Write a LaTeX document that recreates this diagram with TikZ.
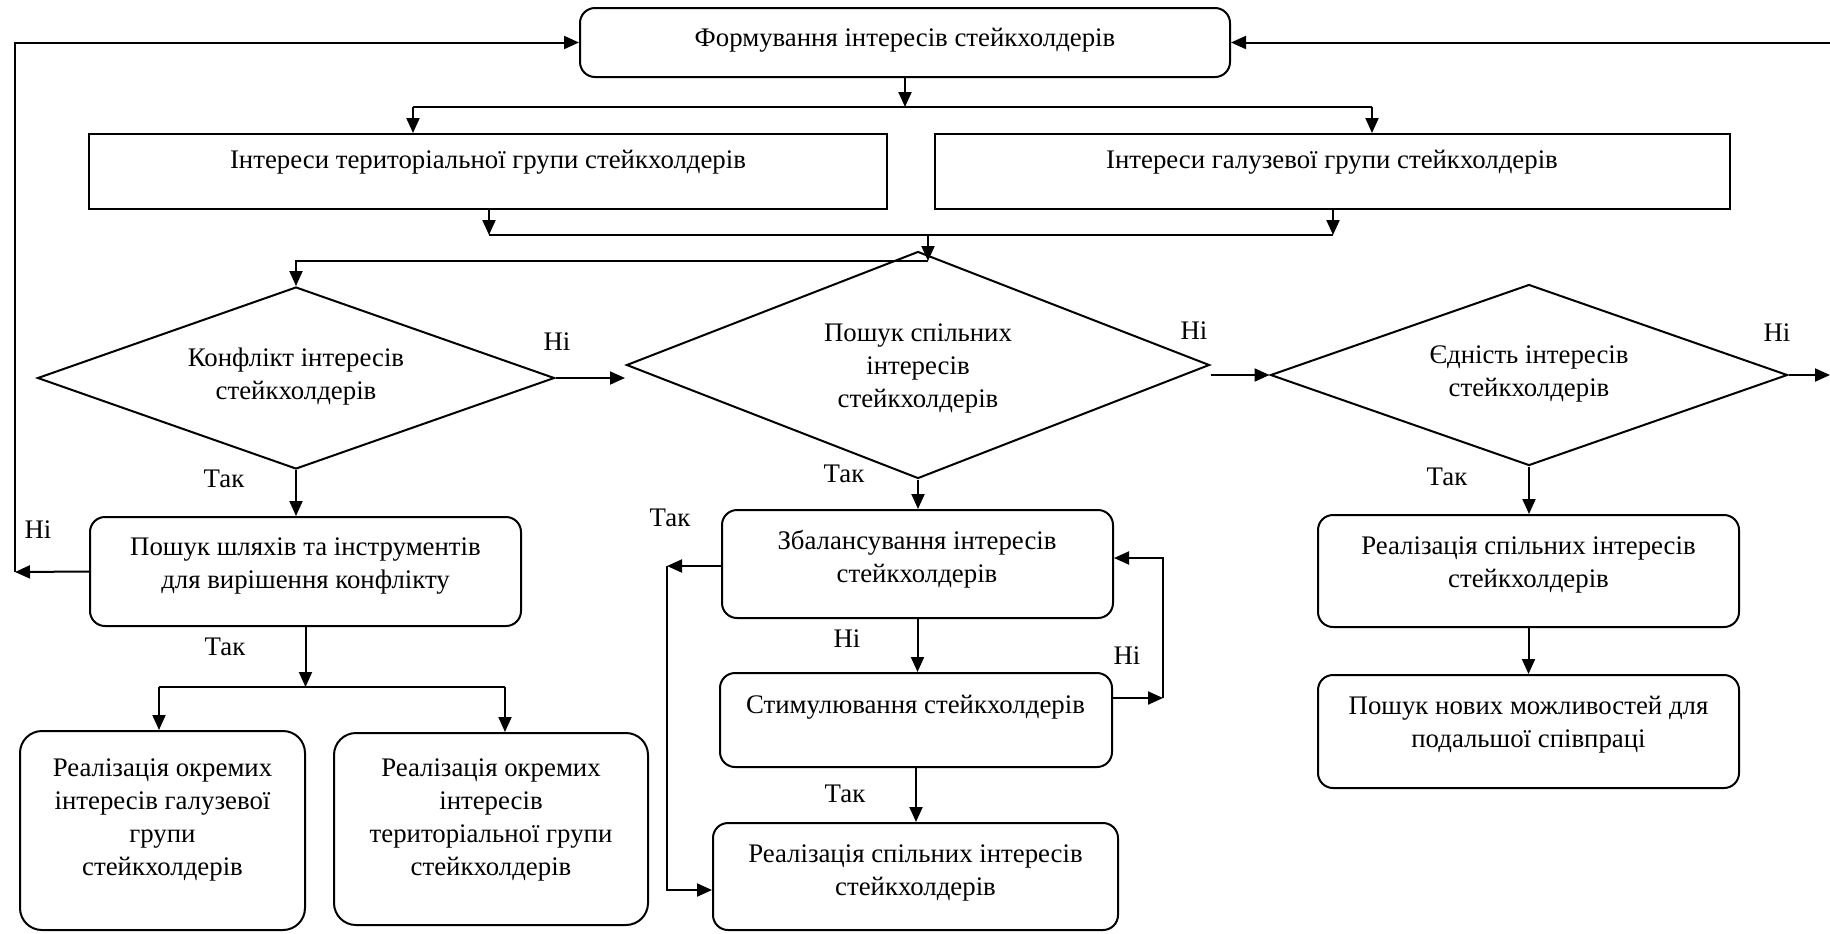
\documentclass[tikz,border=0pt]{standalone}
\usepackage{fontspec}
\setmainfont{Liberation Serif}
\usetikzlibrary{shapes.geometric}
\usetikzlibrary{arrows.meta}

\begin{document}
\begin{tikzpicture}[x=0.5pt,y=-0.5pt,line width=1pt,
   arr/.style={-{Triangle[length=7.5pt,width=6.5pt]}},
   sbox/.style={draw,rectangle,inner sep=0pt},
   rbox/.style={draw,rectangle,rounded corners=7.5pt,inner sep=0pt},
   dmd/.style={draw,diamond,inner sep=0pt},
   txt/.style={align=center,inner sep=0pt,font=\fontsize{13.4}{16.5}\selectfont},
   lbl/.style={inner sep=0pt,font=\fontsize{13.4}{16.5}\selectfont}]
   \useasboundingbox (0,0) rectangle (1830,933);

   \node[rbox,minimum width=325pt,minimum height=34.5pt] (form) at (905,42.5) {};
   \node[sbox,minimum width=399pt,minimum height=37.5pt] (terr) at (488,171.5) {};
   \node[sbox,minimum width=397.5pt,minimum height=37.5pt] (galuz) at (1332.5,171.5) {};
   \node[dmd,minimum width=258.5pt,minimum height=91pt] (konf) at (296,378) {};
   \node[dmd,minimum width=291.5pt,minimum height=113.5pt] (poshuk) at (918,365) {};
   \node[dmd,minimum width=258.5pt,minimum height=90.5pt] (yed) at (1529,375) {};
   \node[rbox,minimum width=215.5pt,minimum height=54.5pt] (shl) at (305.5,571.5) {};
   \node[rbox,rounded corners=11pt,minimum width=142.5pt,minimum height=99.5pt] (okrg) at (162.5,830.5) {};
   \node[rbox,rounded corners=11pt,minimum width=157pt,minimum height=96pt] (okrt) at (491,829) {};
   \node[rbox,minimum width=195.5pt,minimum height=54pt] (zb) at (917.5,564) {};
   \node[rbox,minimum width=196pt,minimum height=47pt] (stim) at (916,720) {};
   \node[rbox,minimum width=202.5pt,minimum height=53.5pt] (realm) at (915.5,876.5) {};
   \node[rbox,minimum width=210.5pt,minimum height=56pt] (realr) at (1528.5,571) {};
   \node[rbox,minimum width=210.5pt,minimum height=56.5pt] (novi) at (1528.5,731.5) {};

   \node[txt] (form-t) at (905,40) {Формування інтересів стейкхолдерів};
   \node[txt] (terr-t) at (488,162) {Інтереси територіальної групи стейкхолдерів};
   \node[txt] (galuz-t) at (1332,162) {Інтереси галузевої групи стейкхолдерів};
   \node[txt] (konf-t) at (296,376.5) {Конфлікт інтересів\\стейкхолдерів};
   \node[txt] (poshuk-t) at (918,368) {Пошук спільних\\інтересів\\стейкхолдерів};
   \node[txt] (yed-t) at (1529,373.5) {Єдність інтересів\\стейкхолдерів};
   \node[txt] (shl-t) at (305.5,566.5) {Пошук шляхів та інструментів\\для вирішення конфлікту};
   \node[txt] (okrg-t) at (162.5,819.5) {Реалізація окремих\\інтересів галузевої\\групи\\стейкхолдерів};
   \node[txt] (okrt-t) at (491,819.5) {Реалізація окремих\\інтересів\\територіальної групи\\стейкхолдерів};
   \node[txt] (zb-t) at (917,559) {Збалансування інтересів\\стейкхолдерів};
   \node[txt] (stim-t) at (915.5,707) {Стимулювання стейкхолдерів};
   \node[txt] (realm-t) at (915.5,872.5) {Реалізація спільних інтересів\\стейкхолдерів};
   \node[txt] (realr-t) at (1528.5,565) {Реалізація спільних інтересів\\стейкхолдерів};
   \node[txt] (novi-t) at (1528.5,725) {Пошук нових можливостей для\\подальшої співпраці};

   \node[lbl] (ni1) at (557,342) {Ні};
   \node[lbl] (ni2) at (1194,331) {Ні};
   \node[lbl] (ni3) at (1777,333) {Ні};
   \node[lbl] (ni4) at (38,530) {Ні};
   \node[lbl] (ni5) at (847,639) {Ні};
   \node[lbl] (ni6) at (1127,656) {Ні};
   \node[lbl] (tak1) at (224,479) {Так};
   \node[lbl] (tak2) at (844,474) {Так};
   \node[lbl] (tak3) at (1447,477) {Так};
   \node[lbl] (tak4) at (225,647) {Так};
   \node[lbl] (tak5) at (670,518) {Так};
   \node[lbl] (tak6) at (845,794) {Так};

   \coordinate (s1) at (905,107);
   \coordinate (sl) at (413,107);
   \coordinate (sr) at (1372,107);
   \draw[arr] (form.south) -- (s1);
   \draw (sl) -- (sr);
   \draw[arr] (sl) -- (sl |- terr.north);
   \draw[arr] (sr) -- (sr |- galuz.north);

   \coordinate (jl) at (489,235);
   \coordinate (jr) at (1333,235);
   \coordinate (m1) at (928,235);
   \coordinate (m2) at (928,261);
   \draw[arr] (jl |- terr.south) -- (jl);
   \draw[arr] (jr |- galuz.south) -- (jr);
   \draw (jl) -- (jr);
   \draw[arr] (m1) -- (m2);
   \draw[arr] (m2) -| (konf.north);

   \coordinate (e1) at (625,378);
   \coordinate (e2) at (1830,375);
   \coordinate (e3) at (1830,42.5);
   \draw[arr] (konf.east) -- (e1);
   \draw[arr] (poshuk.east |- yed.west) -- (yed.west);
   \draw[arr] (yed.east) -- (e2);
   \draw[arr] (e3) -- (form.east);

   \coordinate (lp) at (15,572);
   \draw[arr] (shl.west) -- (lp);
   \draw[arr] (lp) |- (form.west);
   \draw[arr] (konf.south) -- (konf.south |- shl.north);

   \coordinate (b1) at (305.5,687);
   \coordinate (bl) at (159,687);
   \coordinate (br) at (505,687);
   \draw[arr] (shl.south) -- (b1);
   \draw (bl) -- (br);
   \draw[arr] (bl) -- (bl |- okrg.north);
   \draw[arr] (br) -- (br |- okrt.north);

   \draw[arr] (poshuk.south) -- (poshuk.south |- zb.north);
   \draw[arr] (zb.south) -- (zb.south |- stim.north);
   \draw[arr] (stim.south) -- (stim.south |- realm.north);

   \coordinate (r1) at (1163,698);
   \draw[arr] (stim.east |- r1) -- (r1);
   \draw[arr] (r1) |- ([yshift=3pt]zb.east);

   \coordinate (l2) at (667,566);
   \coordinate (l3) at (667,890);
   \draw[arr] (zb.west |- l2) -- (l2);
   \draw[arr] (l2) -- (l3) -- (l3 -| realm.west);

   \draw[arr] (yed.south) -- (yed.south |- realr.north);
   \draw[arr] (realr.south) -- (novi.north);
\end{tikzpicture}
\end{document}
